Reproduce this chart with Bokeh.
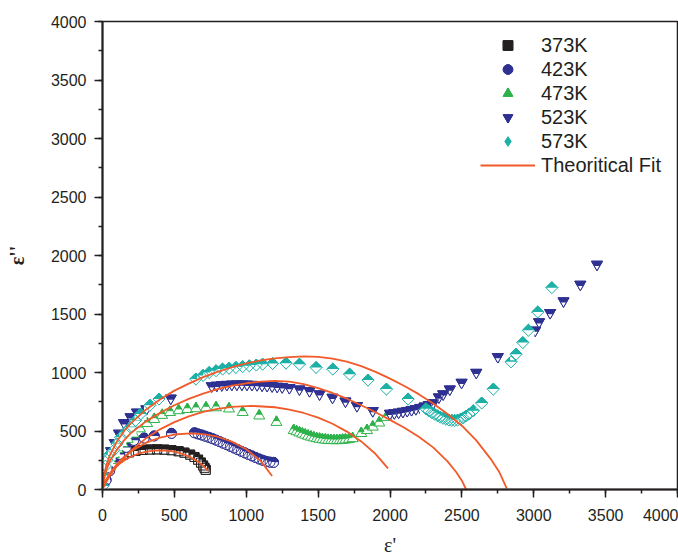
import math
from bokeh.plotting import figure
from bokeh.models import Range1d, SingleIntervalTicker, Legend, LegendItem, ColumnDataSource
from bokeh.transform import dodge
from bokeh.embed import file_html
from bokeh.resources import INLINE

# ---------------- data ----------------
t373_x = [5, 12, 22, 35, 55, 80, 110, 145, 185, 230, 280, 330, 380, 430, 480, 530, 570, 610, 640, 665, 685, 700, 710, 718]
t373_y = [20, 70, 125, 170, 210, 245, 275, 300, 318, 330, 338, 342, 343, 341, 336, 327, 315, 298, 278, 255, 230, 205, 185, 168]

t423_x = [5, 25, 50, 80, 120, 165, 218, 290, 360, 480, 640, 665, 690, 715, 740, 765, 790, 815, 840, 865, 890, 915, 940, 965, 990, 1015, 1040, 1065, 1090, 1115, 1140, 1165, 1190]
t423_y = [10, 80, 160, 230, 300, 360, 420, 440, 458, 480, 485, 475, 466, 456, 446, 434, 422, 409, 396, 383, 369, 355, 341, 327, 313, 300, 287, 274, 261, 250, 240, 234, 232]

t473_x = [5, 12, 30, 55, 80, 105, 140, 175, 215, 260, 310, 360, 415, 470, 530, 590, 650, 720, 790, 880, 975, 1090, 1210, 1330, 1350, 1370, 1390, 1410, 1430, 1450, 1470, 1490, 1510, 1530, 1550, 1570, 1590, 1610, 1630, 1650, 1670, 1690, 1715, 1740, 1800, 1840, 1880, 1925, 1975]
t473_y = [15, 100, 180, 250, 300, 345, 395, 430, 475, 520, 565, 600, 635, 660, 675, 685, 692, 698, 700, 690, 660, 630, 575, 505, 495, 485, 475, 466, 457, 449, 442, 436, 431, 427, 424, 421, 420, 419, 419, 420, 422, 425, 430, 436, 480, 505, 535, 570, 618]

t523_x = [3, 8, 20, 40, 60, 85, 115, 150, 195, 240, 305, 475, 760, 795, 830, 865, 900, 935, 970, 1005, 1040, 1075, 1110, 1145, 1180, 1215, 1250, 1300, 1370, 1440, 1510, 1600, 1690, 1770, 1880, 2000, 2030, 2060, 2090, 2120, 2150, 2180, 2210, 2240, 2270, 2300, 2340, 2370, 2416, 2498, 2600, 2750, 3010, 3037, 3114, 3207, 3324, 3440]
t523_y = [20, 80, 160, 250, 330, 400, 480, 570, 620, 660, 688, 780, 885, 890, 894, 897, 899, 900, 900, 899, 897, 895, 892, 889, 885, 881, 877, 870, 858, 844, 816, 787, 755, 716, 673, 650, 655, 660, 667, 674, 682, 690, 700, 712, 725, 740, 790, 816, 858, 915, 1000, 1135, 1361, 1432, 1511, 1611, 1753, 1924]

t573_x = [3, 10, 20, 32, 50, 79, 100, 126, 160, 195, 230, 265, 330, 393, 649, 700, 742, 790, 835, 880, 928, 975, 1021, 1070, 1114, 1183, 1277, 1370, 1486, 1602, 1719, 1847, 1975, 2126, 2250, 2270, 2290, 2310, 2330, 2350, 2370, 2390, 2410, 2430, 2450, 2470, 2490, 2510, 2530, 2550, 2579, 2638, 2719, 2842, 2877, 2924, 2963, 3028, 3126]
t573_y = [30, 120, 200, 250, 300, 335, 390, 446, 490, 531, 590, 645, 720, 773, 944, 975, 1000, 1015, 1029, 1036, 1043, 1050, 1057, 1064, 1071, 1077, 1080, 1071, 1043, 1029, 986, 935, 858, 773, 690, 672, 657, 643, 630, 618, 608, 600, 594, 591, 590, 593, 600, 612, 628, 645, 673, 739, 858, 1091, 1157, 1256, 1361, 1517, 1725]

fitA_x = [5, 20, 50, 100, 150, 200, 250, 300, 350, 400, 450, 500, 550, 600, 650, 700, 735]
fitA_y = [22, 71, 134, 202, 248, 282, 306, 322, 332, 335, 332, 323, 307, 283, 250, 204, 160]

fitB_x = [5, 20, 50, 100, 150, 200, 300, 400, 500, 610, 700, 800, 900, 1000, 1100, 1180]
fitB_y = [19, 66, 136, 218, 279, 328, 398, 444, 470, 480, 474, 451, 409, 344, 245, 115]

fitC_x = [5, 20, 50, 100, 200, 300, 400, 500, 600, 700, 800, 900, 1037, 1200, 1300, 1400, 1500, 1600, 1700, 1800, 1900, 1986]
fitC_y = [14, 50, 113, 200, 334, 435, 514, 576, 625, 663, 689, 707, 715, 703, 683, 654, 614, 562, 495, 411, 303, 181]

fitD_x = [3, 10, 25, 50, 100, 150, 200, 300, 400, 500, 600, 700, 800, 900, 1000, 1100, 1200, 1300, 1400, 1500, 1600, 1700, 1800, 1900, 2000, 2100, 2200, 2300, 2400, 2460, 2500, 2530]
fitD_y = [30, 85, 160, 240, 340, 420, 485, 580, 655, 720, 775, 820, 857, 887, 908, 922, 928, 922, 900, 866, 825, 776, 720, 660, 595, 528, 450, 360, 240, 150, 75, 0]

fitE_x = [3, 10, 25, 50, 100, 150, 200, 300, 400, 500, 600, 700, 800, 900, 1000, 1100, 1200, 1300, 1400, 1500, 1600, 1700, 1800, 1900, 2000, 2100, 2200, 2300, 2400, 2500, 2600, 2700, 2760, 2812]
fitE_y = [40, 110, 200, 290, 410, 500, 570, 680, 770, 845, 905, 960, 1005, 1045, 1078, 1103, 1120, 1132, 1137, 1133, 1118, 1093, 1055, 1005, 948, 885, 815, 735, 645, 545, 420, 262, 150, 10]

labels = ["373K", "423K", "473K", "523K", "573K"]
fit_label = "Theoritical Fit"

# ---------------- figure ----------------
FRAME_W, FRAME_H = 575, 468
p = figure(frame_width=FRAME_W, frame_height=FRAME_H,
           x_range=Range1d(0, 4000), y_range=Range1d(0, 4000),
           output_backend="svg", toolbar_location=None,
           min_border_left=102, min_border_right=1, min_border_top=21, min_border_bottom=66)
p.xgrid.visible = False
p.ygrid.visible = False
p.outline_line_color = "#231F20"
p.outline_line_width = 1.5
p.background_fill_color = "white"
p.border_fill_color = "white"

YPX = 4000.0 / FRAME_H  # data units per screen pixel (y)

BLACK = "#231F20"
NAVY = "#2E3192"
GREEN = "#2DB24A"
TEAL = "#1CB0A6"
RED = "#F15A29"

def src(x, y):
    return ColumnDataSource(dict(x=x, y=y))

def half_square(x, y, color, s):
    s_ = src(x, y)
    r1 = p.scatter('x', 'y', source=s_, marker='square', size=s, fill_color=color, line_color=color)
    p.rect(x='x', y=dodge('y', -s / 4 * YPX, range=p.y_range), width=s, height=s / 2,
           width_units='screen', height_units='screen', source=s_, fill_color='white', line_color=None)
    r3 = p.scatter('x', 'y', source=s_, marker='square', size=s, fill_color=None, line_color=color, line_width=1)
    return [r1, r3]

def half_circle(x, y, color, s):
    s_ = src(x, y)
    r1 = p.scatter('x', 'y', source=s_, marker='circle', size=s, fill_color=color, line_color=color)
    p.wedge(x='x', y='y', radius=s / 2, radius_units='screen', start_angle=math.pi, end_angle=2 * math.pi,
            source=s_, fill_color='white', line_color=None)
    r3 = p.scatter('x', 'y', source=s_, marker='circle', size=s, fill_color=None, line_color=color, line_width=1)
    return [r1, r3]

def half_triangle(x, y, color, s):
    s_ = src(x, y)
    r1 = p.scatter('x', 'y', source=s_, marker='triangle', size=s, fill_color='white', line_color=color, line_width=1)
    r2 = p.scatter('x', dodge('y', 0.2887 * s * YPX, range=p.y_range), source=s_, marker='triangle',
                   size=s / 2, fill_color=color, line_color=color, line_width=1)
    return [r1, r2]

def half_inv_triangle(x, y, color, s):
    s_ = src(x, y)
    r1 = p.scatter('x', 'y', source=s_, marker='inverted_triangle', size=s, fill_color=color, line_color=color)
    p.scatter('x', dodge('y', -0.2887 * s * YPX, range=p.y_range), source=s_, marker='inverted_triangle',
              size=s / 2, fill_color='white', line_color=None)
    r3 = p.scatter('x', 'y', source=s_, marker='inverted_triangle', size=s, fill_color=None, line_color=color, line_width=1)
    return [r1, r3]

def half_diamond(x, y, color, a):
    s_ = src(x, y)
    d = a * math.sqrt(2)
    # plain diamond underneath (fully hidden by the rotated square); used as legend icon
    r0 = p.scatter('x', 'y', source=s_, marker='diamond', size=d * 0.9, fill_color=color, line_color=color)
    p.scatter('x', 'y', source=s_, marker='square', angle=math.pi / 4, size=a, fill_color=color, line_color=color)
    p.rect(x='x', y=dodge('y', -d / 4 * YPX, range=p.y_range), width=d, height=d / 2,
           width_units='screen', height_units='screen', source=s_, fill_color='white', line_color=None)
    p.scatter('x', 'y', source=s_, marker='square', angle=math.pi / 4, size=a, fill_color=None, line_color=color, line_width=1)
    return [r0]

g373 = half_square(t373_x, t373_y, BLACK, 9)
g423 = half_circle(t423_x, t423_y, NAVY, 10)
g473 = half_triangle(t473_x, t473_y, GREEN, 11)
g523 = half_inv_triangle(t523_x, t523_y, NAVY, 11)
g573 = half_diamond(t573_x, t573_y, TEAL, 8.5)

fits = []
for fx, fy in [(fitA_x, fitA_y), (fitB_x, fitB_y), (fitC_x, fitC_y), (fitD_x, fitD_y), (fitE_x, fitE_y)]:
    fits.append(p.line(fx, fy, line_color=RED, line_width=1.8))

# ---------------- axes ----------------
for ax in (p.xaxis[0], p.yaxis[0]):
    ax.ticker = SingleIntervalTicker(interval=500, num_minor_ticks=2)
    ax.axis_line_width = 2
    ax.axis_line_color = BLACK
    ax.major_tick_line_color = BLACK
    ax.minor_tick_line_color = BLACK
    ax.major_tick_line_width = 1.5
    ax.minor_tick_line_width = 1.5
    ax.major_tick_out = 8
    ax.major_tick_in = 0
    ax.minor_tick_out = 4
    ax.minor_tick_in = 0
    ax.major_label_text_font = "Liberation Sans"
    ax.major_label_text_font_size = "16px"
    ax.major_label_text_color = BLACK
    ax.axis_label_text_font = "Liberation Serif"
    ax.axis_label_text_font_size = "20px"
    ax.axis_label_text_color = BLACK

p.xaxis.axis_label = "ε'"
p.xaxis.axis_label_text_font_style = "normal"
p.xaxis.major_label_standoff = 11
p.xaxis.axis_label_standoff = 10
p.yaxis.axis_label = "ε''"
p.yaxis.axis_label_text_font_style = "bold"
p.yaxis.major_label_standoff = 8
p.yaxis.axis_label_standoff = 20

# ---------------- legend ----------------
items = [LegendItem(label=l, renderers=g) for l, g in zip(labels, [g373, g423, g473, g523, g573])]
items.append(LegendItem(label=fit_label, renderers=[fits[0]]))
legend = Legend(items=items, location=(378, 312))
legend.border_line_color = None
legend.background_fill_alpha = 0
legend.label_text_font = "Liberation Sans"
legend.label_text_font_size = "20px"
legend.label_text_color = BLACK
legend.glyph_width = 55
legend.glyph_height = 24
legend.label_height = 20
legend.spacing = 0
legend.padding = 0
legend.margin = 0
legend.label_standoff = 6
p.add_layout(legend)

open("out.html", "w").write(file_html(p, INLINE))
